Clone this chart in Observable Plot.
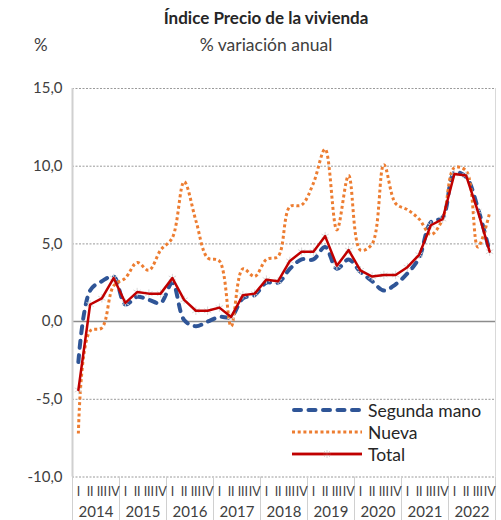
<!DOCTYPE html>
<html>
<head>
<meta charset="utf-8">
<script src="https://cdn.jsdelivr.net/npm/d3@7"></script>
<script src="https://cdn.jsdelivr.net/npm/@observablehq/plot@0.6"></script>
<style>
  body { margin: 0; background: #fff; font-family: Lato, "Open Sans", sans-serif; }
  #wrap { position: relative; width: 501px; height: 520px; overflow: hidden; }
  .t { position: absolute; color: #262626; white-space: nowrap; line-height: 1; }
  #chart svg { display: block; }
  .leg { position: absolute; left: 290px; display: flex; align-items: center; height: 20px; }
  .leg span { font-size: 17.5px; color: #262626; margin-left: 4px; }
</style>
</head>
<body>
<div id="wrap">
  <div id="chart"></div>
  <div class="t" style="left:0;width:532px;text-align:center;top:9px;font-weight:bold;font-size:17px;">Índice Precio de la vivienda</div>
  <div class="t" style="left:0;width:532px;text-align:center;top:36px;font-size:17.5px;color:#404040;">% variación anual</div>
  <div class="t" style="left:34px;top:36px;font-size:17px;color:#404040;">%</div>
  <div id="legend"></div>
</div>
<script>
// ---- data ----
const years = ["2014","2015","2016","2017","2018","2019","2020","2021","2022"];
const quarterLabels = ["I","II","III","IV"];
const seriesNames = ["Segunda mano", "Nueva", "Total"];
const segundaMano = [-2.6, 2.0, 2.6, 2.9, 1.1, 1.6, 1.4, 1.2, 2.5, 0.1, -0.3, 0.0, 0.3, 0.3, 1.5, 1.7,
                     2.5, 2.5, 3.4, 4.0, 4.0, 4.8, 3.4, 4.0, 3.2, 2.6, 2.0, 2.4, 3.1, 4.1, 6.4, 6.7,
                     9.6, 9.3, 7.3, 4.5];
const nueva = [-7.2, -0.6, -0.4, 2.3, 2.8, 3.8, 3.3, 4.6, 5.4, 9.0, 6.5, 4.1, 3.9, -0.3, 3.4, 2.9,
               4.0, 4.2, 7.4, 7.5, 8.9, 11.1, 5.9, 9.4, 4.6, 5.0, 10.1, 7.6, 7.2, 6.6, 5.6, 6.6,
               9.9, 9.7, 4.8, 7.0];
const total = [-4.4, 1.1, 1.5, 2.8, 1.2, 1.9, 1.8, 1.8, 2.8, 1.4, 0.7, 0.7, 0.9, 0.3, 1.7, 1.8,
               2.7, 2.6, 3.9, 4.5, 4.5, 5.5, 3.6, 4.6, 3.3, 2.9, 3.0, 3.0, 3.5, 4.3, 6.2, 6.6,
               9.5, 9.4, 7.1, 4.5];
const yTicks = [-10, -5, 0, 5, 10, 15];

// ---- build ----
const rows = total.map((v, i) => ({q: i, year: years[Math.floor(i / 4)], segunda: segundaMano[i], nueva: nueva[i], total: v}));
const nQ = rows.length;
const qTicks = d3.range(nQ);
const boundaries = d3.range(0, nQ + 1, 4).map(d => d - 0.5);
const yearCenters = years.map((y, k) => k * 4 + 1.5);
const fmt = d => d.toFixed(1).replace(".", ",");

const colors = {seg: "#2F5597", nue: "#ED7D31", tot: "#C00000"};

const chart = Plot.plot({
  width: 501,
  height: 520,
  marginTop: 88,
  marginBottom: 43.5,
  marginLeft: 72,
  marginRight: 6,
  style: {fontFamily: "Lato, 'Open Sans', sans-serif", background: "transparent", color: "#404040", overflow: "visible"},
  x: {type: "linear", domain: [-0.5, nQ - 0.5], label: null},
  y: {domain: [-10, 15], label: null},
  marks: [
    Plot.gridY(yTicks.filter(d => d !== 0), {stroke: "#9a9a9a", strokeOpacity: 1, strokeWidth: 1, strokeDasharray: "2,1.5"}),
    Plot.ruleY([0], {stroke: "#8c8c8c", strokeWidth: 1.5}),
    Plot.ruleX([-0.5], {y1: -10, y2: 15, stroke: "#d0d0d0", strokeWidth: 2}),
    Plot.ruleX([nQ - 0.5], {y1: -10, y2: 15, stroke: "#d9d9d9", strokeWidth: 1}),
    Plot.axisY(yTicks, {anchor: "left", tickSize: 0, tickPadding: 10, tickFormat: fmt, fontSize: 15, label: null}),
    Plot.axisX(boundaries, {anchor: "bottom", tickSize: 44, tickFormat: () => "", stroke: "#d0d0d0", label: null}),
    Plot.axisX(qTicks, {anchor: "bottom", tickSize: 0, tickPadding: 10, tickFormat: d => quarterLabels[d % 4], fontSize: 12.5, label: null}),
    Plot.axisX(yearCenters, {anchor: "bottom", tickSize: 0, tickPadding: 29, tickFormat: d => years[(d - 1.5) / 4], fontSize: 15, label: null}),
    Plot.line(rows, {x: "q", y: "segunda", stroke: colors.seg, strokeWidth: 4, strokeDasharray: "7,7.5", strokeLinecap: "round", curve: "catmull-rom"}),
    Plot.line(rows, {x: "q", y: "nueva", stroke: colors.nue, strokeWidth: 3, strokeDasharray: "3,2.7", strokeLinecap: "butt", strokeLinejoin: "miter", curve: "catmull-rom"}),
    Plot.dot(rows, {x: "q", y: "total", symbol: "asterisk", r: 4, stroke: "#d9d9d9", strokeWidth: 1}),
    Plot.line(rows, {x: "q", y: "total", stroke: colors.tot, strokeWidth: 2.5})
  ]
});
document.getElementById("chart").appendChild(chart);

// ---- legend ----
const legendStyles = [
  {stroke: colors.seg, w: 4, dash: "7,7.5", cap: "round", x1: 4, x2: 70},
  {stroke: colors.nue, w: 3, dash: "3,2.7", cap: "butt", x1: 2, x2: 72},
  {stroke: colors.tot, w: 2.5, dash: "none", cap: "butt", x1: 2, x2: 72, marker: true}
];
const legendTops = [400, 422, 444];
const leg = document.getElementById("legend");
seriesNames.forEach((name, i) => {
  const s = legendStyles[i];
  const div = document.createElement("div");
  div.className = "leg";
  div.style.top = legendTops[i] + "px";
  div.innerHTML = `<svg width="74" height="20"><line x1="${s.x1}" x2="${s.x2}" y1="10" y2="10" stroke="${s.stroke}" stroke-width="${s.w}" stroke-dasharray="${s.dash}" stroke-linecap="${s.cap}"/>` +
    (s.marker ? `<g stroke="#d9d9d9" stroke-width="1"><line x1="33" x2="41" y1="10" y2="10"/><line x1="37" x2="37" y1="6" y2="14"/><line x1="34" x2="40" y1="7" y2="13"/><line x1="34" x2="40" y1="13" y2="7"/></g><line x1="2" x2="72" y1="10" y2="10" stroke="${s.stroke}" stroke-width="${s.w}" opacity="0.85"/>` : "") +
    `</svg><span>${name}</span>`;
  leg.appendChild(div);
});
</script>
</body>
</html>
